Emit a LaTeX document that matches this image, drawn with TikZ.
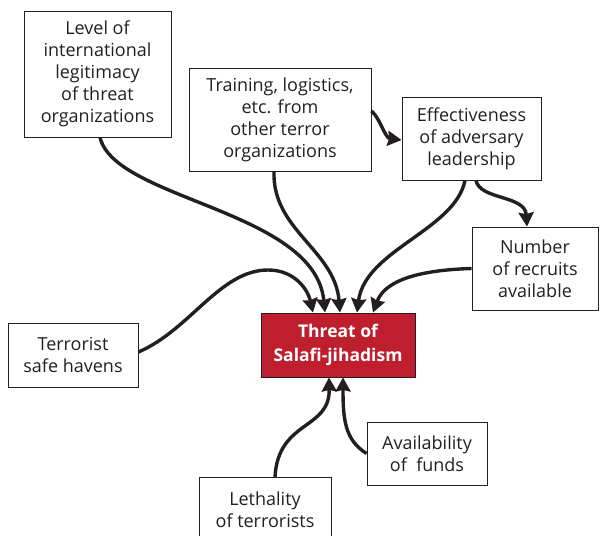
\documentclass[tikz,border=0pt]{standalone}
\usepackage{fontspec}
\setmainfont{Open Sans}
\usetikzlibrary{arrows.meta}
\definecolor{ink}{HTML}{231F20}
\definecolor{threatred}{HTML}{BE1E2D}
\begin{document}
\begin{tikzpicture}[x=1pt,y=-1pt,
  box/.style={draw=ink, line width=0.9pt, text=ink, align=center, inner sep=0pt,
    font=\fontsize{18}{22}\selectfont},
  redbox/.style={draw=ink, line width=0.9pt, fill=threatred, text=white, align=center,
    inner sep=0pt, font=\fontsize{17.5}{24}\selectfont\bfseries},
  link/.style={draw=ink, line width=3.4pt, -{Stealth[inset=1.5pt,length=14pt,width=15pt]}}]
\useasboundingbox (0,0) rectangle (603,536);
\node[box, minimum width=147pt, minimum height=126pt] (legit) at (97.5,74)
  {Level of\\international\\legitimacy\\of threat\\organizations};
\node[box, minimum width=182pt, minimum height=103pt] (train) at (280,119.5)
  {Training, logistics,\\etc. from\\other terror\\organizations};
\node[box, minimum width=139pt, minimum height=83pt] (lead) at (471.5,138.5)
  {Effectiveness\\of adversary\\leadership};
\node[box, minimum width=126pt, minimum height=83pt] (recruit) at (535,268.5)
  {Number\\of recruits\\available};
\node[box, minimum width=130pt, minimum height=64pt] (haven) at (73,355)
  {Terrorist\\safe havens};
\node[redbox, minimum width=154pt, minimum height=64pt] (threat) at (338,345)
  {Threat of\\Salafi-jihadism};
\node[box, minimum width=120pt, minimum height=63pt] (funds) at (427,453.5)
  {Availability\\of\ \ funds};
\node[box, minimum width=132pt, minimum height=64pt, anchor=north] (lethal) at (265,477)
  {Lethality\\of terrorists};
\draw[link] ([xshift=2.5pt]legit.south) .. controls (115,200) and (315,210) .. ([xshift=-13pt]threat.north);
\draw[link] ([yshift=3pt]haven.east) .. controls (190,330) and (220,270) .. (268,270)
  .. controls (295,270) and (308,290) .. ([xshift=-25pt]threat.north);
\draw[link] ([xshift=-6pt]train.south) .. controls (272,230) and (335,250) .. ([xshift=2pt]threat.north);
\draw[link] ([yshift=8.5pt]train.east) .. controls (380,118) and (385,138) .. ([yshift=-1.5pt]lead.west);
\draw[link] ([xshift=-6.5pt]lead.south) .. controls (455,230) and (365,250) .. ([xshift=19pt]threat.north);
\draw[link] ([xshift=4.5pt]lead.south) .. controls (480,200) and (525,195) .. ([xshift=-8pt]recruit.north);
\draw[link] (recruit.west) .. controls (420,270) and (385,280) .. ([xshift=35pt]threat.north);
\draw[link] ([xshift=10pt]lethal.north) .. controls (278,420) and (330,430) .. ([xshift=-9pt]threat.south);
\draw[link] (funds.west) .. controls (345,440) and (343,420) .. ([xshift=5pt]threat.south);
\end{tikzpicture}
\end{document}
